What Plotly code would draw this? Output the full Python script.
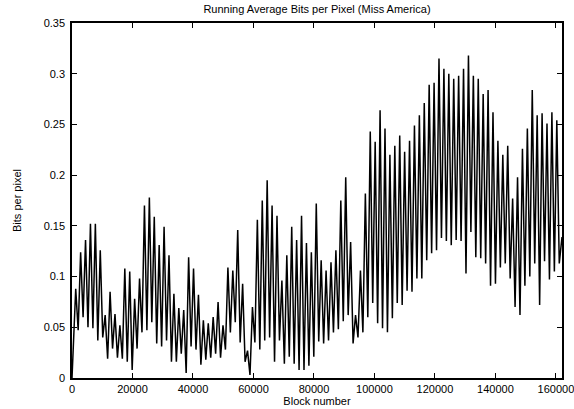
import plotly.graph_objects as go

# Peak and trough values (bits per pixel) of each oscillation cycle
peaks = [
    0.088, 0.124, 0.136, 0.152, 0.152, 0.126, 0.062, 0.085, 0.063, 0.052, 0.108, 0.105, 0.078, 0.098,
    0.170, 0.178, 0.159, 0.131, 0.149, 0.121, 0.083, 0.069, 0.067, 0.119, 0.108, 0.082, 0.057, 0.054,
    0.060, 0.075, 0.052, 0.109, 0.106, 0.146, 0.093, 0.027, 0.070, 0.156, 0.175, 0.195, 0.170, 0.160,
    0.096, 0.121, 0.149, 0.136, 0.160, 0.133, 0.124, 0.172, 0.116, 0.106, 0.114, 0.126, 0.175, 0.198,
    0.134, 0.062, 0.106, 0.182, 0.243, 0.233, 0.264, 0.246, 0.220, 0.229, 0.239, 0.223, 0.234, 0.249, 0.259,
    0.271, 0.289, 0.291, 0.315, 0.305, 0.300, 0.295, 0.298, 0.305, 0.318, 0.298, 0.295, 0.280, 0.284,
    0.262, 0.234, 0.220, 0.229, 0.177, 0.198, 0.226, 0.246, 0.284, 0.259, 0.261, 0.251, 0.262, 0.254,
]
troughs = [
    0.047, 0.060, 0.050, 0.049, 0.037, 0.040, 0.019, 0.029, 0.020, 0.019, 0.016, 0.008, 0.029, 0.045,
    0.047, 0.055, 0.034, 0.031, 0.037, 0.016, 0.016, 0.024, 0.005, 0.031, 0.028, 0.013, 0.018, 0.020,
    0.024, 0.020, 0.028, 0.045, 0.055, 0.035, 0.016, 0.003, 0.035, 0.028, 0.037, 0.040, 0.016, 0.037,
    0.014, 0.021, 0.014, 0.008, 0.008, 0.012, 0.021, 0.036, 0.034, 0.037, 0.045, 0.048, 0.056, 0.062,
    0.034, 0.040, 0.045, 0.060, 0.074, 0.054, 0.049, 0.045, 0.059, 0.074, 0.072, 0.086, 0.085, 0.098, 0.098,
    0.116, 0.123, 0.126, 0.138, 0.135, 0.131, 0.136, 0.135, 0.103, 0.144, 0.119, 0.118, 0.113, 0.091,
    0.093, 0.109, 0.113, 0.098, 0.070, 0.062, 0.091, 0.100, 0.113, 0.072, 0.115, 0.097, 0.105, 0.113,
]
start_value = 0.0
end_value = 0.139

# Block numbers: first peak position, cycle length, and total number of blocks
first_peak_block = 1230
cycle_blocks = 1623
total_blocks = 162000

x_ticks = [0, 20000, 40000, 60000, 80000, 100000, 120000, 140000, 160000]
y_ticks = [0, 0.05, 0.1, 0.15, 0.2, 0.25, 0.3, 0.35]

xs = [0]
ys = [start_value]
for k, (p, t) in enumerate(zip(peaks, troughs)):
    xs.append(first_peak_block + k * cycle_blocks)
    ys.append(p)
    xs.append(first_peak_block + (k + 0.5) * cycle_blocks)
    ys.append(t)
xs.append(total_blocks)
ys.append(end_value)

fig = go.Figure()
fig.add_trace(go.Scatter(x=xs, y=ys, mode="lines",
                         line=dict(color="black", width=1.5), showlegend=False))

font = dict(family="Liberation Sans, Arial, Helvetica, sans-serif", color="black", size=11)

fig.update_layout(
    width=574, height=409,
    margin=dict(l=72, r=12, t=23, b=31, autoexpand=False),
    paper_bgcolor="white", plot_bgcolor="white",
    font=font,
    title=dict(text="Running Average Bits per Pixel (Miss America)",
               x=0.5, xref="paper", y=1 - 9 / 409, yref="container", yanchor="middle",
               automargin=False, font=dict(size=11)),
    showlegend=False,
)
fig.update_xaxes(
    range=[0, total_blocks], tickvals=x_ticks, tickformat="d",
    ticks="inside", ticklen=5, tickwidth=1, tickcolor="black",
    showline=True, linecolor="black", linewidth=1.5, mirror="ticks",
    showgrid=False, zeroline=False, automargin=False,
    ticklabeloverflow="allow",
    title=dict(text="Block number", standoff=2, font=dict(size=11)),
    tickfont=dict(size=11),
)
fig.update_yaxes(
    range=[0, 0.35], tickvals=y_ticks,
    ticks="inside", ticklen=5, tickwidth=1, tickcolor="black",
    showline=True, linecolor="black", linewidth=1.5, mirror="ticks",
    showgrid=False, zeroline=False, automargin=False,
    ticklabelstandoff=3, ticklabeloverflow="allow",
    title=dict(text="Bits per pixel", standoff=20, font=dict(size=11)),
    tickfont=dict(size=11),
)

fig.write_html("out.html",
               config={"displayModeBar": False},
               post_script="document.body.style.margin='0';document.body.style.overflow='hidden';")
